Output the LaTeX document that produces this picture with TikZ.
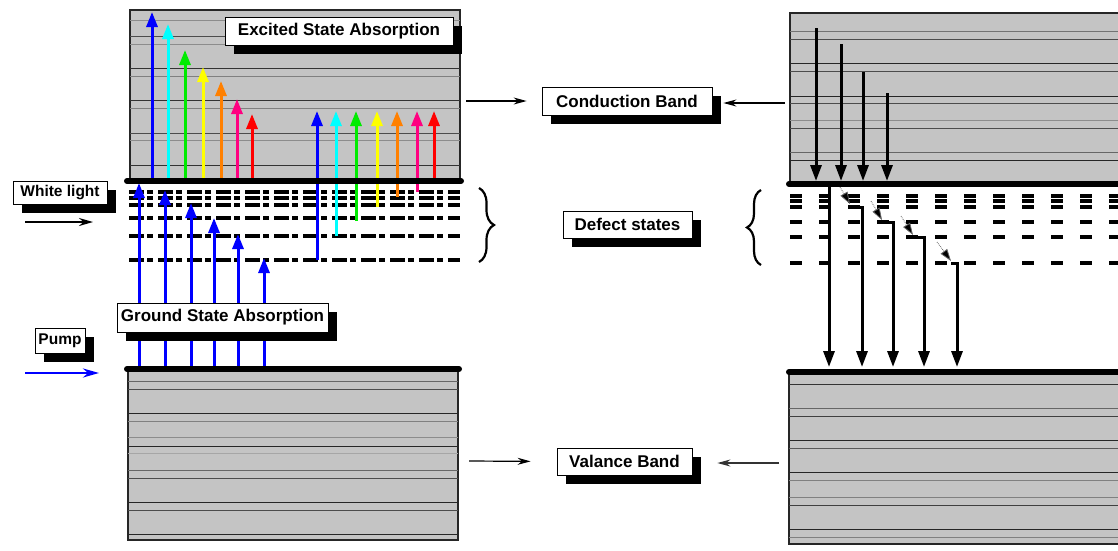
\documentclass[tikz,border=0pt]{standalone}
\usepackage{fontspec}
\setmainfont{Liberation Sans}
\usetikzlibrary{arrows.meta, shadows, decorations.pathreplacing}
\tikzset{
    tag/.style={rectangle, draw=black, line width=0.8pt, fill=white, inner sep=0pt, font=\fontsize{17}{20}\selectfont\bfseries, drop shadow={shadow xshift=9pt, shadow yshift=-9pt, fill=black, opacity=1}},
    smalltag/.style={tag, font=\fontsize{15.5}{18}\selectfont\bfseries},
    band/.style={draw=black!85, line width=1.2pt, fill=black!23},
    edge/.style={line width=6pt, line cap=round},
    lvlL/.style={line width=3.4pt, dash pattern=on 15pt off 3pt on 6pt off 5pt},
    lvlR/.style={line width=3.4pt, dash pattern=on 12pt off 17pt},
    up/.style={line width=3pt, -{Triangle[width=11pt,length=15pt]}},
    down/.style={line width=3pt, -{Triangle[width=11pt,length=16pt]}},
    relax/.style={densely dotted, black!60, line width=0.8pt, -{Triangle[width=8pt,length=12pt,fill=black]}},
    pointer/.style={line width=1.2pt, -{Stealth[width=7pt,length=13pt]}},
    brace/.style={decorate, decoration={brace, amplitude=#1}, line width=2.2pt}
}
\definecolor{ccyan}{RGB}{0,255,255}
\definecolor{cgreen}{RGB}{0,235,0}
\definecolor{cyellow}{RGB}{255,255,0}
\definecolor{corange}{RGB}{255,128,0}
\definecolor{cpink}{RGB}{255,0,128}

\begin{document}
\begin{tikzpicture}[x=1pt, y=-1pt]
    \useasboundingbox (0,0) rectangle (1118,550);

    % Bands
    \fill[band] (130,10) rectangle (460,181);
    \fill[band] (128,369) rectangle (458,540);
    \fill[band] (790,13) rectangle (1121,183);
    \fill[band] (789,372) rectangle (1121,544);
    \foreach \y/\c in {20/45, 36/70, 44/45, 68/80, 76/50, 100/80, 108/50, 133/70, 140/45, 165/80}
        \draw[black!\c, line width=1pt] (130,\y) -- (460,\y);
    \foreach \y/\c in {381/60, 389/70, 413/85, 421/50, 437/45, 446/85, 453/35, 470/60, 478/70, 502/85, 510/70, 534/85}
        \draw[black!\c, line width=1pt] (128,\y) -- (458,\y);
    \foreach \y/\c in {31/55, 39/70, 63/85, 71/70, 96/85, 103/70, 120/45, 128/70, 152/60, 160/85}
        \draw[black!\c, line width=1pt] (790,\y) -- (1118,\y);
    \foreach \y/\c in {384/80, 408/60, 416/75, 440/85, 448/65, 472/85, 480/50, 497/50, 505/75, 529/85, 537/50}
        \draw[black!\c, line width=1pt] (789,\y) -- (1118,\y);

    % Defect levels
    \foreach \y in {192, 198, 205, 218, 236, 260}
        \draw[lvlL] (129,\y) -- (460,\y);
    \foreach \y in {196, 201, 207, 222, 237, 263}
        \draw[lvlR] (790,\y) -- (1118,\y);

    % Excited state absorption
    \foreach \x/\t/\c in {152/12/blue, 168/24/ccyan, 185/50/cgreen, 203/67/cyellow, 221/81/corange, 237/99/cpink, 252/114/red}
        \draw[up, \c] (\x,181) -- (\x,\t);
    \foreach \x/\b/\c in {317/260/blue, 336/236/ccyan, 356/221/cgreen, 377/207/cyellow, 397/197/corange, 417/192/cpink, 434/182/red}
        \draw[up, \c] (\x,\b) -- (\x,111);

    % Ground state absorption
    \foreach \x/\t in {139/183, 165/190, 191/203, 214/218, 238/234, 264/258}
        \draw[up, blue] (\x,369) -- (\x,\t);

    % Relaxation
    \foreach \x/\t in {816/28, 841/44, 863/72, 887/93}
        \draw[down] (\x,\t) -- (\x,181);
    \draw[down] (829,183) -- (829,367);
    \draw[relax] (840,187) -- (850,204);
    \draw[down] (850,207) -- (862,207) -- (862,367);
    \draw[relax] (871,201) -- (882,220);
    \draw[down] (882,222) -- (893,222) -- (893,367);
    \draw[relax] (901,216) -- (913,235);
    \draw[down] (913,237) -- (924,237) -- (924,367);
    \draw[relax] (937,242) -- (951,261);
    \draw[down] (951,263) -- (957,263) -- (957,367);

    % Band edges
    \draw[edge] (127,181) -- (461,181);
    \draw[edge] (127,369) -- (459,369);
    \draw[edge] (789,184) -- (1121,184);
    \draw[edge] (789,372) -- (1121,372);

    % Braces
    \draw[brace=15pt] (479,188) -- (479,262);
    \draw[brace=14pt] (761,265) -- (761,190);

    % Nodes
    \node (esa) [tag, minimum width=228pt, minimum height=28pt] at (339,31) {Excited State Absorption};
    \node (gsa) [tag, minimum width=211pt, minimum height=29pt] at (222.5,317.5) {Ground State Absorption};
    \node (white) [smalltag, minimum width=94pt, minimum height=23pt] at (60,192.5) {White light};
    \node (pump) [smalltag, minimum width=50pt, minimum height=25pt] at (60,340.5) {Pump};
    \node (cb) [tag, minimum width=170pt, minimum height=28pt] at (627,101) {Conduction Band};
    \node (defect) [tag, minimum width=129pt, minimum height=27pt] at (627.5,224.5) {Defect states};
    \node (vb) [tag, minimum width=135pt, minimum height=27pt] at (624.5,461.5) {Valance Band};

    % Arrows
    \coordinate (wl0) at (25,222);
    \coordinate (wl1) at (93,222);
    \draw[line width=2pt, -{Stealth[width=8pt,length=14pt]}] (wl0) -- (wl1);
    \coordinate (pp0) at (25,373);
    \coordinate (pp1) at (99,373);
    \draw[blue, line width=2.5pt, -{Stealth[width=9pt,length=16pt]}] (pp0) -- (pp1);
    \coordinate (cbl) at (466,101);
    \coordinate (cbr) at (785,103);
    \draw[pointer, shorten >=15pt] (cbl) -- (cb.west);
    \draw[pointer, shorten >=11pt] (cbr) -- (cb.east |- cbr);
    \coordinate (vbl) at (469,461);
    \coordinate (vbr) at (779,463);
    \draw[pointer, shorten >=26pt] (vbl) -- (vb.west);
    \draw[pointer, black!80, shorten >=25pt] (vbr) -- (vb.east |- vbr);

\end{tikzpicture}
\end{document}
